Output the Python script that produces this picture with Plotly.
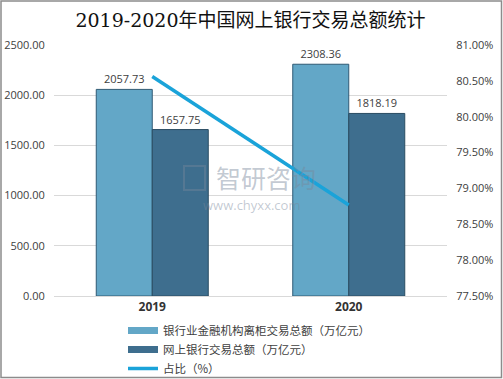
import plotly.graph_objects as go

categories = ["2019", "2020"]
counter_total = [2057.73, 2308.36]
online_total = [1657.75, 1818.19]
ratio = [80.56, 78.77]
series_names = ["银行业金融机构离柜交易总额（万亿元）", "网上银行交易总额（万亿元）", "占比（%）"]
title_text = "2019-2020年中国网上银行交易总额统计"

W, H = 503, 379
L, R, T, B = 54, 56, 45, 83
pw, ph = W - L - R, H - T - B

colors = ["#63a7c7", "#3e6e8e", "#1aa3d9"]

fig = go.Figure()
fig.add_trace(go.Bar(
    x=categories, y=counter_total, name=series_names[0], showlegend=False,
    marker=dict(color=colors[0], line=dict(color="#2f5a74", width=1)),
    text=[f"{v:.2f}" for v in counter_total], textposition="outside",
    textfont=dict(size=11, color="#404040", family="Open Sans, sans-serif"),
    cliponaxis=False,
))
fig.add_trace(go.Bar(
    x=categories, y=online_total, name=series_names[1], showlegend=False,
    marker=dict(color=colors[1], line=dict(color="#2a4c62", width=1)),
    text=[f"{v:.2f}" for v in online_total], textposition="outside",
    textfont=dict(size=11, color="#404040", family="Open Sans, sans-serif"),
    cliponaxis=False,
))
fig.add_trace(go.Scatter(
    x=categories, y=ratio, name=series_names[2], yaxis="y2", showlegend=False,
    mode="lines", line=dict(color=colors[2], width=3.5),
))
# legend proxies (rectangular swatches like the reference)
for name, col, w in zip(series_names, colors, [7, 7, 3.5]):
    fig.add_trace(go.Scatter(x=[None], y=[None], name=name, mode="lines",
                             line=dict(color=col, width=w), showlegend=True))

fig.update_layout(
    width=W, height=H,
    margin=dict(l=L, r=R, t=T, b=B, pad=0, autoexpand=False),
    paper_bgcolor="white", plot_bgcolor="white",
    barmode="group", bargap=0.43, bargroupgap=0,
    font=dict(family="Open Sans, Noto Sans CJK SC, sans-serif", color="#404040", size=11),
    title=dict(text=title_text, x=0.5, xref="paper", xanchor="center", y=1 - 20 / H, yanchor="middle",
               font=dict(family="DejaVu Serif, Noto Sans CJK SC", size=19, color="#111111")),
    xaxis=dict(tickvals=categories, ticktext=[f"<b>{c}</b>" for c in categories],
               tickfont=dict(size=12, color="#333333"), showgrid=False, automargin=False,
               showline=True, linecolor="#d9d9d9", ticks=""),
    yaxis=dict(range=[0, 2500], dtick=500, tickformat=".2f", showgrid=True, automargin=False,
               gridcolor="#d9d9d9", zeroline=False, tickfont=dict(size=11, color="#404040"),
               ticks="outside", ticklen=6, tickcolor="white"),
    yaxis2=dict(range=[77.5, 81.0], dtick=0.5, tickformat=".2f", ticksuffix="%", automargin=False,
                overlaying="y", side="right", showgrid=False, zeroline=False,
                tickfont=dict(size=11, color="#404040"),
                ticks="outside", ticklen=6, tickcolor="white"),
    legend=dict(xref="container", yref="container", x=123 / W, xanchor="left",
                y=1 - 316 / H, yanchor="top",
                orientation="v", font=dict(size=11.5, color="#404040", family="Noto Sans CJK SC"),
                bgcolor="rgba(0,0,0,0)", tracegroupgap=0, itemwidth=30),
    showlegend=True,
)

# watermark
fig.add_annotation(text="智研咨询", x=(266 - L) / pw, y=1 - (177 - T) / ph, xref="paper", yref="paper",
                   showarrow=False, font=dict(size=25, color="rgba(120,135,155,0.45)", family="Noto Sans CJK SC"))
fig.add_shape(type="rect", xref="paper", yref="paper",
              x0=(184 - L) / pw, x1=(205 - L) / pw, y0=1 - (190 - T) / ph, y1=1 - (166 - T) / ph,
              line=dict(color="rgba(120,135,155,0.4)", width=2), fillcolor="rgba(0,0,0,0)")
fig.add_annotation(text="www.chyxx.com", x=(251 - L) / pw, y=1 - (205 - T) / ph, xref="paper", yref="paper",
                   showarrow=False, font=dict(size=13, color="rgba(120,135,155,0.45)", family="Open Sans"))

# outer border
fig.add_shape(type="rect", xref="paper", yref="paper",
              x0=-(L - 1) / pw, x1=1 + (R - 1.5) / pw, y0=-(B - 1.5) / ph, y1=1 + (T - 1) / ph,
              line=dict(color="#8c8c8c", width=1.5), layer="below")

fig.write_html("out.html", config={"displayModeBar": False},
               post_script="document.body.style.margin='0';document.body.style.overflow='hidden';")
